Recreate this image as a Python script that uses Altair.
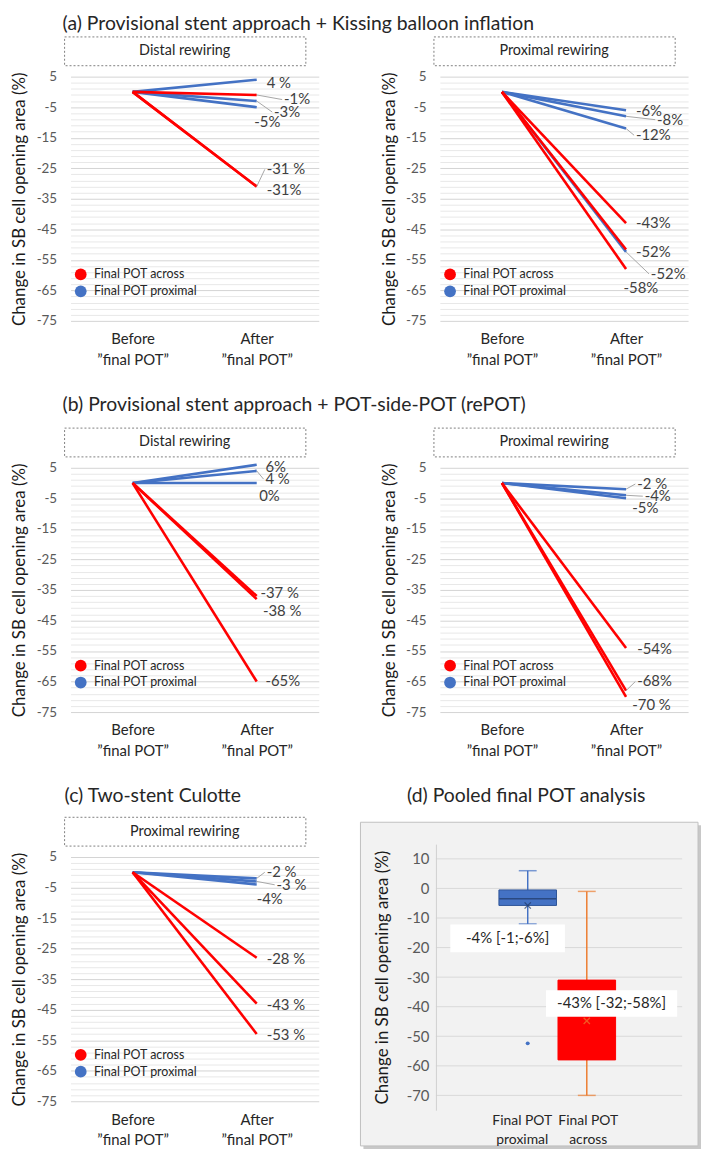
import json
import altair as alt
import numpy as np
import pandas as pd

FONT = "Lato"

# ---------------- data ----------------
P = "Final POT proximal"
A = "Final POT across"
SERIES = [A, P]
SERIES_COLORS = ["#FF0000", "#4472C4"]

STAGE_POS = [0, 1]
STAGE_LINE1 = ["Before", "After"]
STAGE_LINE2 = ["\u201dfinal POT\u201d", "\u201dfinal POT\u201d"]
BASELINE = 0.0

Y_GRID = list(range(5, -76, -2))

# (a) Provisional + kissing balloon, distal rewiring
A1_TITLE = "Distal rewiring"
A1_SERIES = [P, P, P, A, A, A]
A1_AFTER = [4, -3, -5, -1, -31, -31]
A1_LABEL = ["4 %", "-3%", "-5%", "-1%", "-31 %", "-31%"]
A1_LX = [1.08, 1.14, 0.98, 1.22, 1.08, 1.08]
A1_LY = [3.0, -6.6, -10.0, -2.5, -25.4, -32.0]
A1_LEADER = [False, True, False, True, True, False]

# (a) proximal rewiring
A2_TITLE = "Proximal rewiring"
A2_SERIES = [P, P, P, P, A, A, A]
A2_AFTER = [-6, -8, -12, -52.4, -43, -51.6, -58]
A2_LABEL = ["-6%", "-8%", "-12%", "-52%", "-43%", "-52%", "-58%"]
A2_LX = [1.08, 1.25, 1.08, 1.20, 1.08, 1.08, 0.98]
A2_LY = [-6.4, -9.1, -14.2, -59.6, -42.8, -52.4, -64.1]
A2_LEADER = [False, True, True, True, False, False, False]

# (b) Provisional + POT-side-POT, distal rewiring
B1_TITLE = "Distal rewiring"
B1_SERIES = [P, P, P, A, A, A]
B1_AFTER = [6, 4, 0, -37, -38, -65]
B1_LABEL = ["6%", "4 %", "0%", "-37 %", "-38 %", "-65%"]
B1_LX = [1.07, 1.07, 1.02, 1.03, 1.05, 1.07]
B1_LY = [5.1, 1.3, -4.3, -35.9, -42.0, -64.8]
B1_LEADER = [False, True, False, False, False, False]

# (b) proximal rewiring
B2_TITLE = "Proximal rewiring"
B2_SERIES = [P, P, P, A, A, A]
B2_AFTER = [-2, -4, -5, -54, -68, -70]
B2_LABEL = ["-2 %", "-4%", "-5%", "-54%", "-68%", "-70 %"]
B2_LX = [1.09, 1.15, 1.05, 1.09, 1.09, 1.05]
B2_LY = [-0.3, -4.3, -8.1, -54.2, -65.0, -72.8]
B2_LEADER = [True, True, False, False, True, False]

# (c) Two-stent culotte, proximal rewiring
C_TITLE = "Proximal rewiring"
C_SERIES = [P, P, P, A, A, A]
C_AFTER = [-2, -3, -4, -28, -43, -53]
C_LABEL = ["-2 %", "-3 %", "-4%", "-28 %", "-43 %", "-53 %"]
C_LX = [1.08, 1.16, 1.00, 1.08, 1.08, 1.08]
C_LY = [0.0, -4.1, -8.9, -28.5, -43.4, -53.4]
C_LEADER = [True, True, False, False, False, False]

# (d) pooled
D_GROUPS = [P, A]
D_POS = [0, 1]
D_LABEL_LINES = [["Final POT", "proximal"], ["Final POT", "across"]]
D_YTICKS = [10, 0, -10, -20, -30, -40, -50, -60, -70]
D_ANNOT_TEXT = ["-4% [-1;-6%]", "-43% [-32;-58%]"]
D_ANNOT_X = [-0.34, 1.42]
D_ANNOT_Y = [-16.9, -38.9]
D_ANNOT_X1 = [-1.31, 0.31]
D_ANNOT_X2 = [0.63, 2.53]
D_ANNOT_Y1 = [-12.2, -34.4]
D_ANNOT_Y2 = [-21.6, -43.4]

# ---------------- styles ----------------
D_BOX_FILL = ["#4472C4", "#FF0000"]
D_BOX_STROKE = ["#2F5597", "#FF0000"]
D_WHISKER = ["#4472C4", "#ED7D31"]
D_MEAN_COLOR = ["#1F3864", "#ED7D31"]
D_MEDIAN_COLOR = ["#1F3864", "#D00000"]

LW, LH = 250, 246
DW, DH = 248, 255
TXT = "#262626"
TITLE_SIZE = 19.5
YTITLE_SIZE = 17


def multiline_expr(pos, lines):
    expr = json.dumps(lines[-1], ensure_ascii=False)
    for p, l in zip(pos[:-1][::-1], lines[:-1][::-1]):
        expr = f"datum.value == {p} ? {json.dumps(l, ensure_ascii=False)} : {expr}"
    return expr


X_SCALE = alt.Scale(domain=[-0.5, 1.5], nice=False, zero=False)
Y_SCALE = alt.Scale(domain=[-75, 5], nice=False, zero=False)

X_AXIS = alt.Axis(
    values=STAGE_POS, tickCount=10,
    labelExpr=multiline_expr(STAGE_POS, [[a, b] for a, b in zip(STAGE_LINE1, STAGE_LINE2)]),
    title=None, grid=False, domain=False, ticks=False,
    labelFontSize=15, labelColor=TXT, labelFont=FONT, labelPadding=11,
    labelLineHeight=21, labelBaseline="top", labelAngle=0,
)
MAJOR_TEST = "abs(datum.value % 10) == 5"
Y_AXIS = alt.Axis(
    values=Y_GRID, tickCount=100, labelOverlap=False,
    labelExpr=f"{MAJOR_TEST} ? toString(datum.value) : ''",
    gridColor={"condition": {"test": MAJOR_TEST, "value": "#d4d4d4"}, "value": "#e8e8e8"},
    gridWidth=1, ticks=False, domain=False,
    labelFontSize=13.5, labelColor="#595959", labelFont=FONT, labelPadding=14,
    minExtent=34, maxExtent=34,
    title="Change in SB cell opening area (%)", titleFontSize=YTITLE_SIZE, titleFont=FONT,
    titleFontWeight="normal", titleColor="#1a1a1a", titlePadding=8,
)


def line_panel(box_title, series, after, labels, lx, ly, leader):
    n = len(after)
    lines = pd.DataFrame({
        "line": [i for i in range(n) for _ in STAGE_POS],
        "series": [s for s in series for _ in STAGE_POS],
        "stage": STAGE_POS * n,
        "value": [v for a in after for v in (BASELINE, a)],
    })
    labs = pd.DataFrame({"series": series, "after": after, "label": labels,
                         "lx": lx, "ly": ly, "leader": leader})
    labs["end"] = STAGE_POS[1]
    labs["lead_x"] = labs["lx"] - 0.015

    base = alt.Chart(lines)
    blue = base.transform_filter(alt.datum.series == P).mark_line(
        strokeWidth=2.6, color=SERIES_COLORS[1]).encode(
        x=alt.X("stage:Q", scale=X_SCALE, axis=X_AXIS),
        y=alt.Y("value:Q", scale=Y_SCALE, axis=Y_AXIS),
        detail="line:N")
    red = base.transform_filter(alt.datum.series == A).mark_line(
        strokeWidth=2.6, color=SERIES_COLORS[0]).encode(
        x=alt.X("stage:Q", scale=X_SCALE),
        y=alt.Y("value:Q", scale=Y_SCALE),
        detail="line:N")
    legend_layer = base.transform_filter(alt.datum.stage == STAGE_POS[0]).mark_circle(
        size=4, opacity=0).encode(
        x=alt.X("stage:Q", scale=X_SCALE),
        y=alt.Y("value:Q", scale=Y_SCALE),
        fill=alt.Fill("series:N", scale=alt.Scale(domain=SERIES, range=SERIES_COLORS),
                      legend=alt.Legend(title=None, orient="none", legendX=4, legendY=193,
                                        symbolType="circle", symbolSize=140,
                                        symbolOpacity=1, symbolStrokeWidth=0,
                                        labelFontSize=12.5, labelFont=FONT, labelColor=TXT,
                                        labelOffset=7, rowPadding=4, padding=0)))
    lab_chart = alt.Chart(labs)
    leaders = lab_chart.transform_filter(alt.datum.leader).mark_rule(
        color="#a6a6a6", strokeWidth=1).encode(
        x=alt.X("end:Q", scale=X_SCALE), x2="lead_x:Q",
        y=alt.Y("after:Q", scale=Y_SCALE), y2="ly:Q")
    texts = lab_chart.mark_text(align="left", baseline="middle", fontSize=15,
                                color="#404040", font=FONT).encode(
        x=alt.X("lx:Q", scale=X_SCALE),
        y=alt.Y("ly:Q", scale=Y_SCALE),
        text="label:N")
    box_data = alt.Data(values=[{"t": box_title}])
    box = alt.Chart(box_data).mark_rect(
        fill="white", stroke="#808080", strokeDash=[2, 2], strokeWidth=1).encode(
        x=alt.value(-6), x2=alt.value(237), y=alt.value(-40), y2=alt.value(-11))
    box_text = alt.Chart(box_data).mark_text(fontSize=14.5, font=FONT, color=TXT).encode(
        text="t:N", x=alt.value(115), y=alt.value(-25.5))
    return alt.layer(blue, red, legend_layer, leaders, texts, box, box_text).properties(
        width=LW, height=LH)


# ---------------- pooled statistics (Excel exclusive quartiles) ----------------
ALL_SERIES = A1_SERIES + A2_SERIES + B1_SERIES + B2_SERIES + C_SERIES
ALL_AFTER = A1_AFTER + A2_AFTER + B1_AFTER + B2_AFTER + C_AFTER


def box_stats(vals):
    v = np.sort(np.asarray(vals, dtype=float))
    q1 = float(np.percentile(v, 25, method="weibull"))
    q3 = float(np.percentile(v, 75, method="weibull"))
    iqr = q3 - q1
    lo_f, hi_f = q1 - 1.5 * iqr, q3 + 1.5 * iqr
    inside = v[(v >= lo_f) & (v <= hi_f)]
    return dict(q1=q1, q3=q3, med=float(np.median(v)), lo=float(inside.min()),
                hi=float(inside.max()), mean=float(v.mean()),
                out=[float(x) for x in v[(v < lo_f) | (v > hi_f)]])


STATS = [box_stats([a for s, a in zip(ALL_SERIES, ALL_AFTER) if s == g]) for g in D_GROUPS]

DX_SCALE = alt.Scale(domain=[-1.47, 2.53], nice=False, zero=False)
DY_SCALE = alt.Scale(domain=[-75, 15], range=[DH, -13], nice=False, zero=False)
D_X_AXIS = alt.Axis(
    values=D_POS, tickCount=10, labelExpr=multiline_expr(D_POS, D_LABEL_LINES), title=None,
    grid=False, domain=False, ticks=False, zindex=1, labelAngle=0, labelOverlap=False,
    labelFontSize=14, labelFont=FONT, labelColor=TXT, labelLineHeight=20,
    labelOffset={"condition": {"test": f"datum.value == {D_POS[0]}", "value": -6}, "value": 1},
    labelBaseline="middle", labelPadding=10)
D_Y_AXIS = alt.Axis(
    values=D_YTICKS, tickCount=30, labelOverlap=False, labelExpr="toString(datum.value)",
    grid=False, domain=True, domainColor="#d0d0d0", ticks=False, zindex=1,
    labelFontSize=15, labelFont=FONT, labelColor="#595959", labelPadding=7,
    minExtent=30, maxExtent=30,
    title="Change in SB cell opening area (%)", titleFontSize=YTITLE_SIZE, titleFont=FONT,
    titleFontWeight="normal", titleColor="#1a1a1a", titlePadding=15)

one = alt.Data(values=[{"k": 1}])
d_layers = [
    alt.Chart(one).mark_rect(fill="#c8c8c8").encode(
        x=alt.value(-73), x2=alt.value(267), y=alt.value(-32), y2=alt.value(294)),
    alt.Chart(one).mark_rect(fill="#f2f2f2", stroke="#bfbfbf", strokeWidth=1).encode(
        x=alt.value(-76), x2=alt.value(264), y=alt.value(-35), y2=alt.value(291)),
    alt.Chart(pd.DataFrame({"v": D_YTICKS})).mark_rule(color="#d9d9d9", strokeWidth=1).encode(
        y=alt.Y("v:Q", scale=DY_SCALE, axis=D_Y_AXIS), x=alt.value(0), x2=alt.value(DW)),
]
for i, g in enumerate(D_GROUPS):
    st = STATS[i]
    df = pd.DataFrame([{"pos": D_POS[i], **{k: v for k, v in st.items() if k != "out"}}])
    c = alt.Chart(df)
    if i == 0:
        xq = alt.X("pos:Q", scale=DX_SCALE, axis=D_X_AXIS)
    else:
        xq = alt.X("pos:Q", scale=DX_SCALE)
    xn = alt.X("pos:Q", scale=DX_SCALE)

    def yq(f):
        return alt.Y(f"{f}:Q", scale=DY_SCALE)

    d_layers += [
        c.mark_rule(color=D_WHISKER[i], strokeWidth=1.5).encode(x=xq, y=yq("lo"), y2="q1:Q"),
        c.mark_rule(color=D_WHISKER[i], strokeWidth=1.5).encode(x=xn, y=yq("q3"), y2="hi:Q"),
        c.mark_tick(orient="horizontal", size=18, thickness=1.5, color=D_WHISKER[i]).encode(x=xn, y=yq("lo")),
        c.mark_tick(orient="horizontal", size=18, thickness=1.5, color=D_WHISKER[i]).encode(x=xn, y=yq("hi")),
        c.mark_bar(size=58, fill=D_BOX_FILL[i], stroke=D_BOX_STROKE[i], strokeWidth=1).encode(
            x=xn, y=yq("q1"), y2="q3:Q"),
        c.mark_tick(orient="horizontal", size=57, thickness=1.5, color=D_MEDIAN_COLOR[i]).encode(
            x=xn, y=yq("med")),
        c.mark_point(shape="M-1,-1L1,1M-1,1L1,-1", size=40, filled=False, strokeWidth=1.3,
                     color=D_MEAN_COLOR[i]).encode(x=xn, y=yq("mean")),
    ]
    if st["out"]:
        odf = pd.DataFrame({"pos": [D_POS[i]] * len(st["out"]), "v": st["out"]})
        d_layers.append(alt.Chart(odf).mark_circle(size=16, color=D_BOX_FILL[i], opacity=1).encode(
            x=xn, y=yq("v")))

annot = pd.DataFrame({"t": D_ANNOT_TEXT, "x": D_ANNOT_X, "y": D_ANNOT_Y,
                      "x1": D_ANNOT_X1, "x2": D_ANNOT_X2, "y1": D_ANNOT_Y1, "y2": D_ANNOT_Y2})
d_layers += [
    alt.Chart(annot).mark_rect(fill="white").encode(
        x=alt.X("x1:Q", scale=DX_SCALE), x2="x2:Q",
        y=alt.Y("y1:Q", scale=DY_SCALE), y2="y2:Q"),
    alt.Chart(annot).mark_text(fontSize=15, font=FONT, color=TXT).encode(
        x=alt.X("x:Q", scale=DX_SCALE),
        y=alt.Y("y:Q", scale=DY_SCALE), text="t:N"),
]
panel_d = alt.layer(*d_layers).properties(
    width=DW, height=DH,
    title=alt.TitleParams("(d) Pooled final POT analysis", anchor="middle", frame="group",
                          dx=-33, fontSize=TITLE_SIZE, font=FONT, fontWeight="normal",
                          color=TXT, offset=15))

panel_a1 = line_panel(A1_TITLE, A1_SERIES, A1_AFTER, A1_LABEL, A1_LX, A1_LY, A1_LEADER)
panel_a2 = line_panel(A2_TITLE, A2_SERIES, A2_AFTER, A2_LABEL, A2_LX, A2_LY, A2_LEADER)
panel_b1 = line_panel(B1_TITLE, B1_SERIES, B1_AFTER, B1_LABEL, B1_LX, B1_LY, B1_LEADER)
panel_b2 = line_panel(B2_TITLE, B2_SERIES, B2_AFTER, B2_LABEL, B2_LX, B2_LY, B2_LEADER)
panel_c = line_panel(C_TITLE, C_SERIES, C_AFTER, C_LABEL, C_LX, C_LY, C_LEADER).properties(
    title=alt.TitleParams("(c) Two-stent Culotte", anchor="start", frame="group", dx=-6,
                          fontSize=TITLE_SIZE, font=FONT, fontWeight="normal", color=TXT,
                          offset=10))


def row(left, right, spacing, title=None, offset=8):
    kw = {}
    if title:
        kw["title"] = alt.TitleParams(title, anchor="start", dx=52, fontSize=TITLE_SIZE, font=FONT,
                                      fontWeight="normal", color=TXT, offset=offset)
    return alt.hconcat(left, right, spacing=spacing, **kw).resolve_scale(
        x="independent", y="independent", fill="independent").resolve_legend(fill="independent")


row_a = row(panel_a1, panel_a2, 61, "(a) Provisional stent approach + Kissing balloon inflation", 2)
row_b = row(panel_b1, panel_b2, 61, "(b) Provisional stent approach + POT-side-POT (rePOT)", 12)
row_c = row(panel_c, panel_d, 41)

chart = alt.vconcat(
    row_a, row_b, row_c, spacing=28,
    padding={"left": 2, "top": 2, "right": 0, "bottom": 0}, background="white"
).resolve_scale(
    x="independent", y="independent", fill="independent").resolve_legend(
    fill="independent").configure(font=FONT).configure_view(stroke=None)

chart.save("out.html", embed_options={"renderer": "svg", "actions": False})
